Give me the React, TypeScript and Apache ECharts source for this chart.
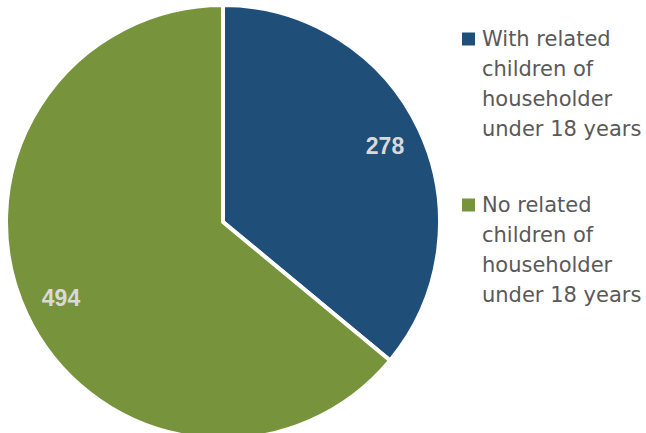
import React, { useEffect, useRef } from "react";
import * as echarts from "echarts";

const categories = [
  "With related children of householder under 18 years",
  "No related children of householder under 18 years",
];
const legendLines = [
  ["With related", "children of", "householder", "under 18 years"],
  ["No related", "children of", "householder", "under 18 years"],
];
const values = [278, 494];
const colors = ["#1F4E79", "#77933C"];

export default function App() {
  const ref = useRef<HTMLDivElement>(null);
  useEffect(() => {
    if (!ref.current) return;
    const chart = echarts.init(ref.current, null, { renderer: "svg" });
    const data = categories.map((name, i) => ({
      name,
      value: values[i],
      itemStyle: { color: colors[i] },
    }));
    const rich: any = {
      sp: { width: 7, height: 13, lineHeight: 30 },
      ind: { width: 20, height: 13, lineHeight: 30 },
    };
    colors.forEach((c, i) => {
      rich["b" + i] = { width: 13, height: 13, backgroundColor: c, lineHeight: 30 };
    });
    chart.setOption({
      animation: false,
      backgroundColor: "#ffffff",
      legend: {
        orient: "vertical",
        left: 456,
        top: 24,
        padding: 0,
        itemGap: 46,
        itemWidth: 0,
        itemHeight: 14,
        icon: "rect",
        itemStyle: { opacity: 0 },
        data: categories,
        selectedMode: false,
        formatter: (name: string) => {
          const i = categories.indexOf(name);
          const lines = legendLines[i];
          return lines
            .map((l, k) => (k === 0 ? `{b${i}|}{sp|}${l}` : `{ind|}${l}`))
            .join("\n");
        },
        textStyle: {
          fontFamily: "DejaVu Sans",
          fontSize: 21,
          color: "#595959",
          lineHeight: 30,
          rich,
        },
      },
      series: [
        {
          type: "pie",
          center: [223, 222],
          radius: [0, 217],
          startAngle: 90,
          clockwise: true,
          data,
          label: { show: false },
          labelLine: { show: false },
          itemStyle: { borderColor: "#ffffff", borderWidth: 4 },
          emphasis: { disabled: true },
        },
        {
          type: "pie",
          center: [223, 222],
          radius: [137, 215],
          startAngle: 90,
          clockwise: true,
          silent: true,
          legendHoverLink: false,
          data: categories.map((name, i) => ({ name, value: values[i] })),
          itemStyle: { color: "transparent", borderWidth: 0 },
          label: {
            show: true,
            position: "inside",
            formatter: "{c}",
            fontFamily: "Liberation Sans",
            fontWeight: "bold",
            fontSize: 23,
            color: "#D9D9D9",
          },
          labelLine: { show: false },
          emphasis: { disabled: true },
        },
      ],
    });
    return () => chart.dispose();
  }, []);
  return (
    <div
      ref={ref}
      style={{ position: "fixed", left: 0, top: 0, width: 646, height: 433 }}
    />
  );
}
